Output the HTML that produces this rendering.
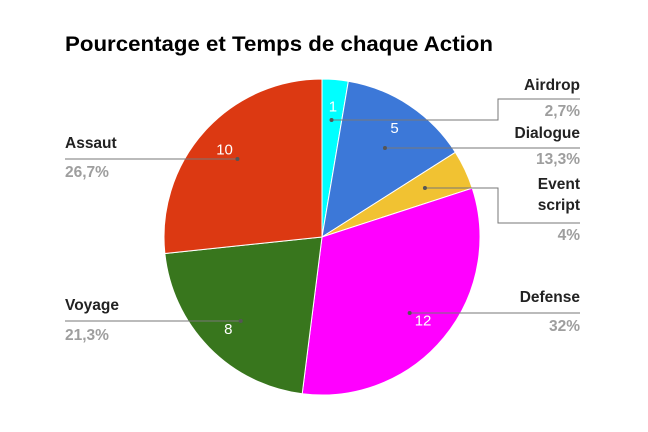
<!DOCTYPE html>
<html><head><meta charset="utf-8"><style>
body{margin:0;background:#fff}
svg{display:block;font-family:"Liberation Sans",Arial,sans-serif}
</style></head><body>
<svg id="chart" width="648" height="432">
<rect width="648" height="432" fill="#fff"/>
<text x="65" y="51" font-size="21.5" font-weight="bold" fill="#000" textLength="428" lengthAdjust="spacingAndGlyphs">Pourcentage et Temps de chaque Action</text>
<g id="slices"></g><g id="labels"></g>
</svg>
<script>
const categories=["Airdrop","Dialogue","Event script","Defense","Voyage","Assaut"];
const values=[1,5,1.5,12,8,10];
const colors=["#00ffff","#3c78d8","#f1c232","#ff00ff","#38761d","#dc3912"];
const pctLabels=["2,7%","13,3%","4%","32%","21,3%","26,7%"];
const valueLabels=["1","5","","12","8","10"];
const cx=322,cy=237,R=158;
const NS="http://www.w3.org/2000/svg";
const sg=document.getElementById('slices'),lg=document.getElementById('labels');
function mk(t,a,p){const e=document.createElementNS(NS,t);for(const k in a)e.setAttribute(k,a[k]);p.appendChild(e);return e;}
function pt(frac,r){const a=frac*2*Math.PI;return [cx+r*Math.sin(a),cy-r*Math.cos(a)];}
const total=values.reduce((a,b)=>a+b,0);
const layout=[
 {side:"r",names:["Airdrop"],ny:[90],ly:99,py:116,bend:120},
 {side:"r",names:["Dialogue"],ny:[138],ly:148,py:164},
 {side:"r",names:["Event","script"],ny:[189,210],ly:223,py:240,bend:188},
 {side:"r",names:["Defense"],ny:[302],ly:313,py:331},
 {side:"l",names:["Voyage"],ny:[310],ly:321,py:340},
 {side:"l",names:["Assaut"],ny:[148],ly:159,py:177}
];
let acc=0;
values.forEach((v,i)=>{
 const f0=acc/total,f1=(acc+v)/total;acc+=v;
 const [x0,y0]=pt(f0,R),[x1,y1]=pt(f1,R);
 const large=(f1-f0)>0.5?1:0;
 const p=mk('path',{d:`M${cx},${cy}L${x0},${y0}A${R},${R} 0 ${large} 1 ${x1},${y1}Z`,fill:colors[i],stroke:"#fff","stroke-width":1},sg);
 
 
 const fm=(f0+f1)/2;
 const [vx,vy]=pt(fm,R*0.83);
 if(valueLabels[i]){const t=mk('text',{x:vx,y:vy+5,"text-anchor":"middle","font-size":15,fill:"#fff"},lg);t.textContent=valueLabels[i];
  
  }
 const L=layout[i];
 const [dx,dy]=pt(fm,R*0.72);
 if(L.side==="r"){
  const by=L.bend!==undefined?L.bend:L.ly;
  const d=L.bend!==undefined?`M${dx},${by}H498V${L.ly}H580`:`M${dx},${L.ly}H580`;
  mk('path',{d:d,fill:"none",stroke:"#777","stroke-width":1},lg);
  const c=mk('circle',{cx:dx,cy:by,r:2,fill:"#555"},lg);
  
  
 }else{
  mk('path',{d:`M65,${L.ly}H${dx}`,fill:"none",stroke:"#777","stroke-width":1},lg);
  const c=mk('circle',{cx:dx,cy:L.ly,r:2,fill:"#555"},lg);
  
  
 }
 const anchor=L.side==="r"?"end":"start",tx=L.side==="r"?580:65;
 L.names.forEach((n,k)=>{const t=mk('text',{x:tx,y:L.ny[k],"text-anchor":anchor,"font-size":15.5,"font-weight":"bold",fill:"#222"},lg);t.textContent=n;
  
  });
 const t=mk('text',{x:tx,y:L.py,"text-anchor":anchor,"font-size":15.5,"font-weight":"bold",fill:"#9e9e9e"},lg);t.textContent=pctLabels[i];
 
 
});
</script>
</body></html>
